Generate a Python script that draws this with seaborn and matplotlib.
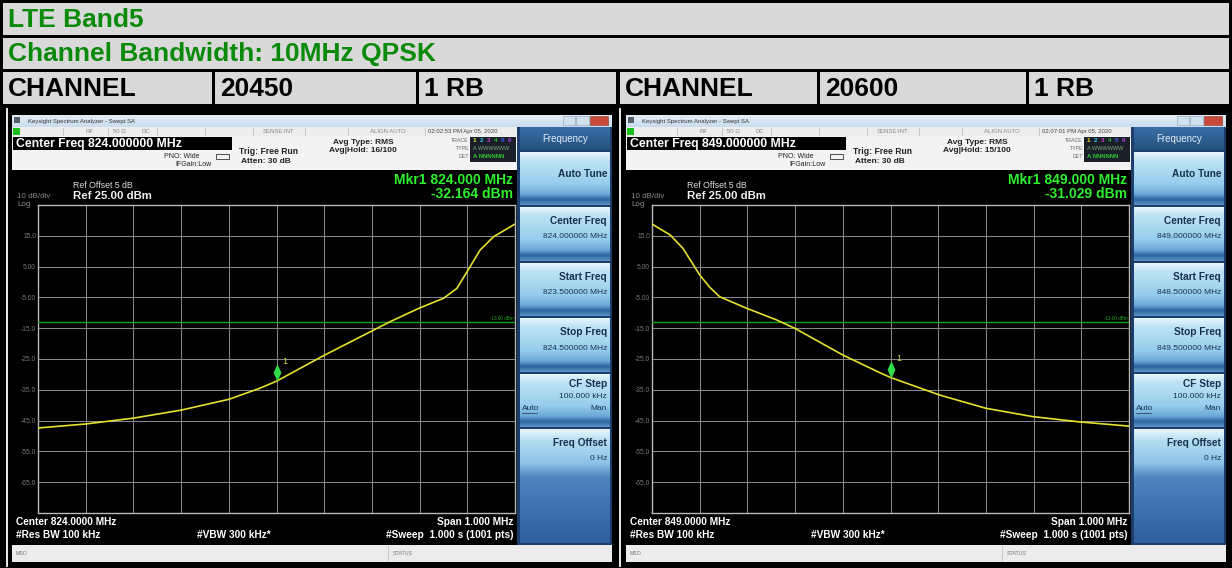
import matplotlib

matplotlib.use("Agg")
import matplotlib.pyplot as plt
import numpy as np
import pandas as pd
import seaborn as sns
from matplotlib.colors import LinearSegmentedColormap
from matplotlib.patches import Rectangle
from matplotlib.path import Path

# ---- values ----
band_title = "LTE Band5"
bw_title = "Channel Bandwidth: 10MHz QPSK"
channels = ["20450", "20600"]
rb_labels = ["1 RB", "1 RB"]
center_freqs = [824.0, 849.0]  # MHz
span_mhz = 1.0
ref_level = 25.0  # dBm, top of graticule
db_per_div = 10.0
display_line = -13.0  # dBm
marker_freqs = [824.000, 849.000]
marker_levels = [-32.164, -31.029]
timestamps = ["02:02:53 PM Apr 05, 2020", "02:07:01 PM Apr 05, 2020"]
avg_hold = ["16/100", "15/100"]
ytick_labels = ["", "-65.0", "-55.0", "-45.0", "-35.0", "-25.0", "-15.0",
                "-5.00", "5.00", "15.0", ""]

low_freq = [823.500, 823.600, 823.700, 823.800, 823.900, 823.965, 824.000,
            824.100, 824.238, 824.299, 824.350, 824.378, 824.406, 824.427,
            824.455, 824.500]
low_dbm = [-47.4, -46.1, -44.2, -41.6, -38.1, -34.5, -32.2, -23.8, -12.9,
           -8.5, -5.3, -2.1, 5.0, 10.4, 14.7, 18.8]

high_freq = [848.500, 848.538, 848.565, 848.600, 848.621, 848.642, 848.698,
             848.761, 848.799, 848.900, 848.977, 849.000, 849.103, 849.200,
             849.298, 849.395, 849.500]
high_dbm = [18.8, 15.3, 10.9, 2.3, -1.7, -4.8, -8.5, -12.3, -15.0, -23.7,
            -29.4, -31.0, -36.7, -41.0, -43.7, -45.4, -46.8]

traces = [pd.DataFrame({"freq": low_freq, "dbm": low_dbm}),
          pd.DataFrame({"freq": high_freq, "dbm": high_dbm})]

W, H = 1232, 568
plt.rcParams["font.family"] = ["Liberation Sans", "DejaVu Sans"]

GREEN = "#0a8a0a"
CELL = "#d9d9d9"
NAVY = "#17324f"


def grad(bg, x0, x1, y0, y1, colors, stops, z=2):
    cmap = LinearSegmentedColormap.from_list("g", list(zip(stops, colors)))
    bg.imshow(np.linspace(0, 1, 120)[:, None], cmap=cmap, extent=(x0, x1, y1, y0),
              aspect="auto", interpolation="bilinear", zorder=z)


def box(bg, x0, x1, y0, y1, color, z=1, **kw):
    bg.add_patch(Rectangle((x0, y0), x1 - x0, y1 - y0, facecolor=color, zorder=z, **kw))


def draw_screen(fig, bg, i, dx):
    cf = center_freqs[i]
    start, stop = cf - span_mhz / 2, cf + span_mhz / 2

    # window chrome
    grad(bg, 12 + dx, 612 + dx, 115, 127, ["#e4edf7", "#c9dcee"], [0, 1])
    box(bg, 14 + dx, 20 + dx, 117, 123, "#55606a", z=3)
    bg.text(28 + dx, 121, "Keysight Spectrum Analyzer - Swept SA", fontsize=4.3,
            color="#333", va="center", zorder=4)
    box(bg, 563 + dx, 575 + dx, 116, 125, "#d2dfec", z=3, edgecolor="#8aa0b8", lw=0.4)
    box(bg, 576 + dx, 589 + dx, 116, 125, "#d2dfec", z=3, edgecolor="#8aa0b8", lw=0.4)
    box(bg, 590 + dx, 608 + dx, 116, 125, "#c8493b", z=3, edgecolor="#8a3028", lw=0.4)

    # status bar
    box(bg, 12 + dx, 517 + dx, 127, 136, "#ededed", z=2)
    box(bg, 13 + dx, 20 + dx, 128, 135, "#19c019", z=3)
    for sx in [63, 108, 157, 205, 253, 305, 348, 425]:
        bg.plot([sx + dx, sx + dx], [128, 135], color="#b5b5b5", lw=0.5, zorder=3)
    for sx, s in [(85, "RF"), (113, "50 \u03a9"), (142, "DC"), (263, "SENSE:INT"),
                  (370, "ALIGN AUTO")]:
        bg.text(sx + dx, 131.5, s, fontsize=4.3, color="#888", va="center", zorder=4)
    bg.text(428 + dx, 131.5, timestamps[i], fontsize=4.3, color="#444", va="center", zorder=4)

    # settings header
    box(bg, 12 + dx, 517 + dx, 136, 170, "#f3f3f3", z=2)
    box(bg, 13 + dx, 232 + dx, 137, 150, "black", z=3)
    bg.text(16 + dx, 143.5, f"Center Freq {cf:.6f} MHz", fontsize=8.8, fontweight="bold",
            color="white", va="center", zorder=4)
    bg.text(200 + dx, 156, "PNO: Wide", fontsize=5, color="#222", ha="right", va="center", zorder=4)
    bg.text(212 + dx, 164.5, "IFGain:Low", fontsize=5, color="#222", ha="right", va="center", zorder=4)
    box(bg, 216 + dx, 229 + dx, 154, 159, "#f3f3f3", z=3, edgecolor="#333", lw=0.6)
    bg.text(239 + dx, 152, "Trig: Free Run", fontsize=6.2, fontweight="bold", color="#222",
            va="center", zorder=4)
    bg.text(241 + dx, 161.5, "Atten: 30 dB", fontsize=6, fontweight="bold", color="#222",
            va="center", zorder=4)
    bg.text(333 + dx, 142, "Avg Type: RMS", fontsize=6, fontweight="bold", color="#222",
            va="center", zorder=4)
    bg.text(329 + dx, 151, f"Avg|Hold: {avg_hold[i]}", fontsize=6, fontweight="bold",
            color="#222", va="center", zorder=4)
    for ty, s in [(140, "TRACE"), (149, "TYPE"), (157, "DET")]:
        bg.text(469 + dx, ty, s, fontsize=3.8, color="#666", ha="right", va="center", zorder=4)
    box(bg, 470 + dx, 516 + dx, 137, 162, "#1a1f2a", z=3)
    for k, c in enumerate(["#e8e830", "#2fc8e8", "#d040d0", "#30c030", "#4060f0", "#b040e0"]):
        bg.text(473 + dx + k * 7, 140, str(k + 1), fontsize=4.5, fontweight="bold", color=c,
                va="center", zorder=4)
    bg.text(473 + dx, 149, "A WWWWWW", fontsize=4, color="#7ab07a", va="center", zorder=4)
    bg.text(473 + dx, 157, "A NNNNNN", fontsize=4.3, fontweight="bold", color="#30d030",
            va="center", zorder=4)

    # black screen texts
    bg.text(73 + dx, 185, "Ref Offset 5 dB", fontsize=6.3, color="#dddddd", va="center", zorder=4)
    bg.text(73 + dx, 196, f"Ref {ref_level:.2f} dBm", fontsize=8.2, fontweight="bold",
            color="#eeeeee", va="center", zorder=4)
    bg.text(17 + dx, 197, "10 dB/div", fontsize=5.8, color="#8a8a8a", va="center", zorder=4)
    bg.text(17 + dx, 204, "Log", fontsize=5.8, color="#8a8a8a", va="center", zorder=4)
    bg.text(513 + dx, 180, f"Mkr1 {marker_freqs[i]:.3f} MHz", fontsize=10, fontweight="bold",
            color="#2ef02e", ha="right", va="center", zorder=4)
    bg.text(513 + dx, 193.5, f"{marker_levels[i]:.3f} dBm", fontsize=10, fontweight="bold",
            color="#2ef02e", ha="right", va="center", zorder=4)
    bg.text(16 + dx, 522, f"Center {cf:.4f} MHz", fontsize=7.3, fontweight="bold",
            color="white", va="center", zorder=4)
    bg.text(16 + dx, 535, "#Res BW 100 kHz", fontsize=7.3, fontweight="bold",
            color="white", va="center", zorder=4)
    bg.text(197 + dx, 535, "#VBW 300 kHz*", fontsize=7.3, fontweight="bold",
            color="white", va="center", zorder=4)
    bg.text(513 + dx, 522, f"Span {span_mhz:.3f} MHz", fontsize=7.3, fontweight="bold",
            color="white", ha="right", va="center", zorder=4)
    bg.text(513 + dx, 535, "#Sweep  1.000 s (1001 pts)", fontsize=7.3, fontweight="bold",
            color="white", ha="right", va="center", zorder=4)

    # bottom status line
    box(bg, 12 + dx, 612 + dx, 545, 562, "#ececec", z=2)
    bg.text(16 + dx, 553.5, "MSO", fontsize=3.8, color="#777", va="center", zorder=4)
    bg.plot([388 + dx, 388 + dx], [546, 561], color="#bbb", lw=0.5, zorder=3)
    bg.text(393 + dx, 553.5, "STATUS", fontsize=3.8, color="#777", va="center", zorder=4)

    # softkey panel
    box(bg, 517 + dx, 612 + dx, 127, 545, "#1d3e6c", z=2)
    grad(bg, 520 + dx, 610 + dx, 127, 150, ["#3a6ea6", "#24527f"], [0, 1], z=3)
    bg.text(565 + dx, 138.5, "Frequency", fontsize=7, color="#e6eef8", ha="center",
            va="center", zorder=4)
    btn_colors = ["#e9f6fc", "#bfe3f5", "#96cdec", "#6aa8d8", "#2d649e", "#5b93c8"]
    btn_stops = [0, 0.15, 0.6, 0.8, 0.9, 1]
    buttons = [(152, 205, "Auto Tune", None),
               (207, 261, "Center Freq", f"{cf:.6f} MHz"),
               (263, 316, "Start Freq", f"{start:.6f} MHz"),
               (318, 372, "Stop Freq", f"{stop:.6f} MHz"),
               (374, 427, "CF Step", "100.000 kHz")]
    for y0, y1, lab, val in buttons:
        grad(bg, 520 + dx, 610 + dx, y0, y1, btn_colors, btn_stops, z=3)
        ty = y0 + 22 if lab == "Auto Tune" else y0 + 14
        if lab == "CF Step":
            ty = y0 + 10
        bg.text(607 + dx, ty, lab, fontsize=7.3, fontweight="bold", color=NAVY,
                ha="right", va="center", zorder=4)
        if val:
            bg.text(607 + dx, ty + (12 if lab == "CF Step" else 16), val, fontsize=6,
                    color=NAVY, ha="right", va="center", zorder=4)
    bg.text(522 + dx, 408, "Auto", fontsize=6, color=NAVY, va="center", zorder=4)
    bg.plot([522 + dx, 537 + dx], [412.5, 412.5], color=NAVY, lw=0.5, zorder=4)
    bg.text(607 + dx, 408, "Man", fontsize=6, color=NAVY, ha="right", va="center", zorder=4)
    grad(bg, 520 + dx, 610 + dx, 429, 543,
         ["#e9f6fc", "#b4ddf2", "#8cc2e6", "#4f86c0", "#3d72b0", "#2f5f9c"],
         [0, 0.1, 0.3, 0.42, 0.7, 1], z=3)
    bg.text(607 + dx, 443, "Freq Offset", fontsize=7.3, fontweight="bold", color=NAVY,
            ha="right", va="center", zorder=4)
    bg.text(607 + dx, 459, "0 Hz", fontsize=6, color=NAVY, ha="right", va="center", zorder=4)

    # graticule with the measured trace
    ax = fig.add_axes([(38 + dx) / W, 1 - 513 / H, 477 / W, 308 / H])
    ax.set_facecolor("black")
    sns.lineplot(data=traces[i], x="freq", y="dbm", ax=ax, color="#e4e22c", lw=1.2,
                 estimator=None, sort=False, zorder=5)
    ax.axhline(display_line, color="#17a317", lw=1.0, zorder=4)
    ax.text(stop - 0.003, display_line + 0.4, f"{display_line:.2f} dBm", fontsize=3.3,
            color="#22aa22", ha="right", va="bottom", zorder=6)
    diamond = Path([(0, 0), (0.45, 1), (0, 2), (-0.45, 1), (0, 0)],
                   [Path.MOVETO, Path.LINETO, Path.LINETO, Path.LINETO, Path.CLOSEPOLY])
    ax.plot([marker_freqs[i]], [marker_levels[i]], marker=diamond, markersize=25,
            color="#2fdc4a", markeredgewidth=0, linestyle="none", zorder=7)
    ax.annotate("1", (marker_freqs[i], marker_levels[i]), xytext=(4.5, 12),
                textcoords="offset points", fontsize=6.5, color="#d8d840", zorder=7)
    bottom = ref_level - 10 * db_per_div
    ax.set_xlim(start, stop)
    ax.set_ylim(bottom, ref_level)
    ax.set_xticks(np.linspace(start, stop, 11))
    ax.set_yticks(np.linspace(bottom, ref_level, 11))
    ax.set_xticklabels([])
    ax.set_yticklabels(ytick_labels)
    ax.tick_params(length=0, labelsize=4.8, labelcolor="#7a7a7a", pad=1.5)
    ax.grid(True, color="#8c8c8c", lw=0.7)
    ax.set_axisbelow(True)
    ax.set_xlabel("")
    ax.set_ylabel("")
    for sp in ax.spines.values():
        sp.set_color("#b8b8b8")
        sp.set_linewidth(1.0)


fig = plt.figure(figsize=(W / 100, H / 100), dpi=100, facecolor="black")
bg = fig.add_axes([0, 0, 1, 1])
bg.set_facecolor("black")

# table rows
box(bg, 3, 1229, 3, 35, CELL)
box(bg, 3, 1229, 38, 69, CELL)
bg.text(8, 20, band_title, fontsize=19, fontweight="bold", color=GREEN, va="center")
bg.text(8, 54, bw_title, fontsize=19, fontweight="bold", color=GREEN, va="center")
cells = [(3, 212), (215, 416), (419, 616), (620, 817), (820, 1026), (1029, 1229)]
labels = ["CHANNEL", channels[0], rb_labels[0], "CHANNEL", channels[1], rb_labels[1]]
for (x0, x1), lab in zip(cells, labels):
    box(bg, x0, x1, 72, 104, CELL)
    bg.text(x0 + 5, 89, lab, fontsize=19, fontweight="bold", color="black", va="center")

# white separators of the screenshot cells
bg.plot([7, 7], [109, 566], color="white", lw=1.3)
bg.plot([620, 620], [109, 566], color="white", lw=1.3)

for i, dx in enumerate([0, 614]):
    draw_screen(fig, bg, i, dx)

bg.set_xlim(0, W)
bg.set_ylim(H, 0)
bg.axis("off")

fig.savefig("out.png", dpi=100, facecolor="black")
plt.close(fig)
